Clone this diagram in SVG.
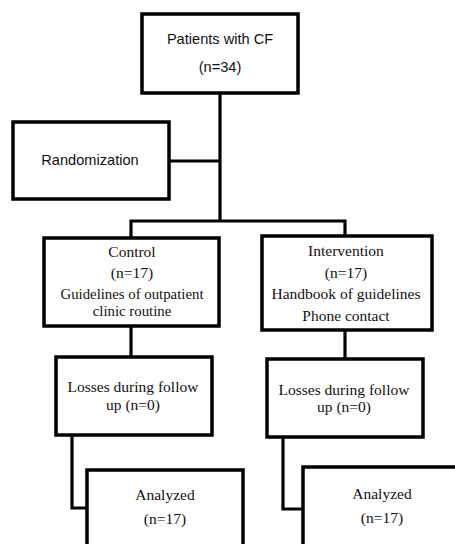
<svg xmlns="http://www.w3.org/2000/svg" width="455" height="544" viewBox="0 0 455 544">
<style>
.box{fill:#fff;stroke:#000;stroke-width:3.5}
.ln{fill:none;stroke:#000;stroke-width:3.2}
.s{font-family:"Liberation Sans",Arial,sans-serif;font-size:14.6px;fill:#111;text-anchor:middle}
.t{font-family:"Liberation Serif","Times New Roman",serif;font-size:15.5px;fill:#111;text-anchor:middle}
.tc{font-size:14.8px}
</style>
<rect width="455" height="544" fill="#fff"/>
<g id="connectors">
<path class="ln" d="M220,93 V221"/>
<path class="ln" d="M169,161 H220"/>
<path class="ln" d="M131,238 V221 H345 V236"/>
<path class="ln" d="M131,326 V357"/>
<path class="ln" d="M345,330 V359"/>
<path class="ln" d="M72,435 V508 H87"/>
<path class="ln" d="M283,437 V509 H303"/>
</g>
<g id="patients">
<rect class="box" x="142" y="14" width="156" height="79"/>
<text class="s" x="220" y="44">Patients with CF</text>
<text class="s" x="220" y="72">(n=34)</text>
</g>
<g id="randomization">
<rect class="box" x="13" y="122" width="156" height="77"/>
<text class="s" x="90" y="165">Randomization</text>
</g>
<g id="control">
<rect class="box" x="44" y="238" width="175" height="88"/>
<text class="t" x="132" y="257">Control</text>
<text class="t" x="132" y="278">(n=17)</text>
<text class="t tc" x="132" y="299">Guidelines of outpatient</text>
<text class="t tc" x="132" y="316">clinic routine</text>
</g>
<g id="intervention">
<rect class="box" x="262" y="236" width="170" height="94"/>
<text class="t" x="346" y="256">Intervention</text>
<text class="t" x="346" y="278">(n=17)</text>
<text class="t" x="346" y="299">Handbook of guidelines</text>
<text class="t" x="346" y="321">Phone contact</text>
</g>
<g id="losses-control">
<rect class="box" x="56" y="357" width="156" height="78"/>
<text class="t" x="133" y="392">Losses during follow</text>
<text class="t" x="133" y="410">up (n=0)</text>
</g>
<g id="losses-intervention">
<rect class="box" x="267" y="359" width="156" height="78"/>
<text class="t" x="344" y="395">Losses during follow</text>
<text class="t" x="344" y="412">up (n=0)</text>
</g>
<g id="analyzed-control">
<rect class="box" x="87" y="470" width="156" height="80"/>
<text class="t" x="165" y="500">Analyzed</text>
<text class="t" x="165" y="524">(n=17)</text>
</g>
<g id="analyzed-intervention">
<rect class="box" x="303" y="467" width="160" height="83"/>
<text class="t" x="382" y="499">Analyzed</text>
<text class="t" x="382" y="523">(n=17)</text>
</g>
</svg>
